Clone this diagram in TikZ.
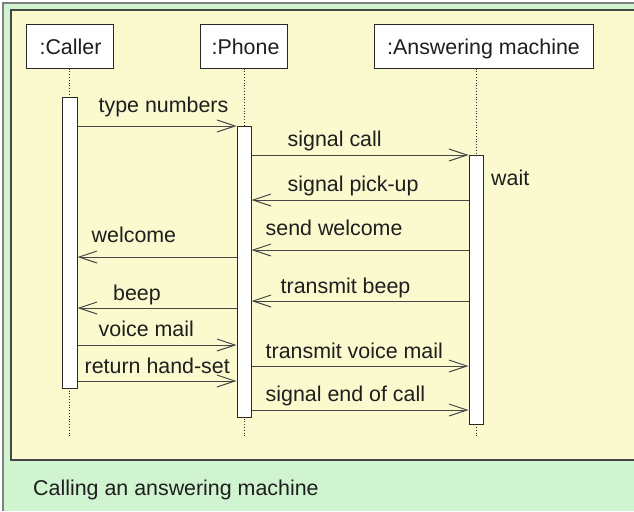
\documentclass[tikz,border=0pt]{standalone}
\usepackage{fontspec}
\setmainfont{Liberation Sans}
\usetikzlibrary{arrows.meta}
\definecolor{framegreen}{RGB}{208,244,208}
\definecolor{frameline}{RGB}{128,128,128}
\definecolor{paneyellow}{RGB}{251,249,206}
\definecolor{paneline}{RGB}{70,70,70}
\definecolor{boxline}{RGB}{40,40,40}
\definecolor{msgline}{RGB}{70,70,70}
\definecolor{txt}{RGB}{30,30,30}
\begin{document}
\begin{tikzpicture}[x=1pt,y=-1pt,
  every node/.style={font=\fontsize{21.4}{25}\selectfont, text=txt},
  objbox/.style={draw=boxline, fill=white, line width=1pt, inner sep=0pt,
    minimum height=43pt, text height=15.4pt, text depth=0pt},
  actbar/.style={draw=boxline, fill=white, line width=1pt, inner sep=0pt},
  life/.style={draw=boxline, dotted, line width=0.8pt},
  msg/.style={draw=msgline, line width=1pt, -{Straight Barb[length=18pt,width=12pt]}},
  lbl/.style={anchor=base west, inner sep=0pt}]
\useasboundingbox (0,0) rectangle (634,511);
% frame and pane
\fill[framegreen] (3,3) rectangle (634,511);
\draw[frameline, line width=1.2pt] (3,511) -- (3,3) -- (634,3);
\fill[paneyellow] (11,10) rectangle (634,460);
\draw[paneline, line width=1.2pt] (634,10) -- (11,10) -- (11,460) -- (634,460);
% object boxes
\node[objbox, minimum width=87pt] (caller) at (69.5,46.5) {\hspace*{2pt}:Caller};
\node[objbox, minimum width=87pt] (phone) at (243.5,46.5) {\hspace*{4pt}:Phone};
\node[objbox, minimum width=219pt] (answer) at (483.5,46.5) {:Answering machine};
% lifelines
\coordinate (cend) at (69.5,438);
\coordinate (pend) at (244,438);
\coordinate (aend) at (476,438);
\draw[life] (caller.south) -- (cend);
\draw[life] (phone.south -| pend) -- (pend);
\draw[life] (answer.south -| aend) -- (aend);
% activation bars
\node[actbar, minimum width=15pt, minimum height=291pt] (cbar) at (69.5,242.5) {};
\node[actbar, minimum width=14pt, minimum height=291pt] (pbar) at (244,271.5) {};
\node[actbar, minimum width=14pt, minimum height=269pt] (abar) at (476,289.5) {};
% messages
\draw[msg] (cbar.east |- 0,126) -- (pbar.west |- 0,126);
\node[lbl] (l1) at (98.5,112) {type numbers};
\draw[msg] (pbar.east |- 0,155) -- (abar.west |- 0,155);
\node[lbl] (l2) at (287.5,146.5) {signal call};
\draw[msg] (abar.west |- 0,200) -- (pbar.east |- 0,200);
\node[lbl] (l3) at (287.5,191.5) {signal pick-up};
\node[lbl] (wait) at (491,185) {wait};
\draw[msg] (abar.west |- 0,250) -- (pbar.east |- 0,250);
\node[lbl] (l4) at (265.5,235) {send welcome};
\draw[msg] (pbar.west |- 0,257) -- (cbar.east |- 0,257);
\node[lbl] (l5) at (91.5,242.5) {welcome};
\draw[msg] (abar.west |- 0,301) -- (pbar.east |- 0,301);
\node[lbl] (l6) at (280.5,293) {transmit beep};
\draw[msg] (pbar.west |- 0,308) -- (cbar.east |- 0,308);
\node[lbl] (l7) at (113,300.5) {beep};
\draw[msg] (cbar.east |- 0,345) -- (pbar.west |- 0,345);
\node[lbl] (l8) at (98.5,336) {voice mail};
\draw[msg] (pbar.east |- 0,366) -- (abar.west |- 0,366);
\node[lbl] (l9) at (265.5,358.5) {transmit voice mail};
\draw[msg] (cbar.east |- 0,381) -- (pbar.west |- 0,381);
\node[lbl] (l10) at (84.5,373.5) {return hand-set};
\draw[msg] (pbar.east |- 0,410) -- (abar.west |- 0,410);
\node[lbl] (l11) at (265.5,401.5) {signal end of call};
% caption
\node[lbl] (caption) at (33,495.5) {Calling an answering machine};
\end{tikzpicture}
\end{document}
